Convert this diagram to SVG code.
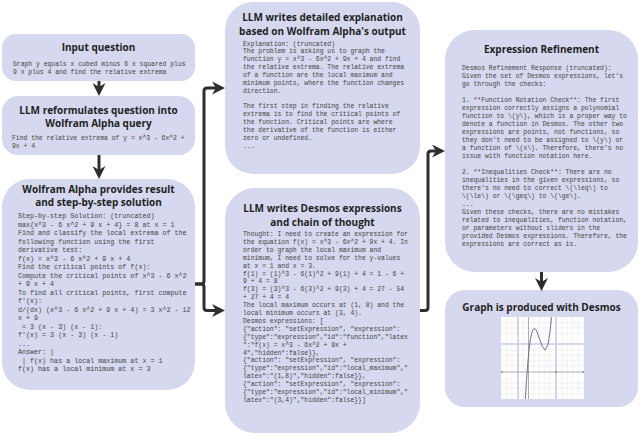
<svg xmlns="http://www.w3.org/2000/svg" width="640" height="436" viewBox="0 0 640 436">
<style>
.box{fill:#d5d8ee}
.title{font-family:"Open Sans","Liberation Sans",sans-serif;font-weight:700;font-size:10px;fill:#1f1f1f;text-anchor:middle}
.body{font-family:"Liberation Mono","DejaVu Sans Mono",monospace;font-size:6.4px;fill:#444}
.wa{font-size:6.7px}
.conn{fill:none;stroke:#2e2e2e;stroke-width:3}
.minor{stroke:#c8c8c8;stroke-width:0.5;stroke-dasharray:1 1}
.major{stroke:#c9cde6;stroke-width:1.6}
.axis{stroke:#8a8a8a;stroke-width:0.7}
</style>
<defs>
<marker id="arrow" viewBox="0 0 10 10" refX="7" refY="5" markerWidth="13" markerHeight="13" markerUnits="userSpaceOnUse" orient="auto">
<path d="M0,0 L10,5 L0,10 L3,5 z" fill="#2e2e2e"/>
</marker>
<clipPath id="plotclip"><rect x="501" y="317" width="83" height="82"/></clipPath>
</defs>

<g id="input-question">
<rect class="box" x="2" y="34" width="193" height="47" rx="14"/>
<text class="title" x="98.5" y="51">Input question</text>
<text class="body" x="13" y="65.5">Graph y equals x cubed minus 6 x squared plus</text>
<text class="body" x="13" y="74">9 x plus 4 and find the relative extrema</text>
</g>

<g id="reformulate">
<rect class="box" x="2" y="96" width="193" height="59" rx="16"/>
<text class="title" x="98.5" y="113.5">LLM reformulates question into</text>
<text class="title" x="98.5" y="127">Wolfram Alpha query</text>
<text class="body" x="12" y="139.5">Find the relative extrema of y = x^3 - 6x^2 +</text>
<text class="body" x="12" y="148">9x + 4</text>
</g>

<g id="wolfram">
<rect class="box" x="2" y="179" width="193" height="211" rx="28"/>
<text class="title" x="98.5" y="192.5">Wolfram Alpha provides result</text>
<text class="title" x="98.5" y="205.5">and step-by-step solution</text>
<text class="body wa">
<tspan x="18" y="218">Step-by-step Solution: (truncated)</tspan>
<tspan x="18" y="226.5">max{x^3 - 6 x^2 + 9 x + 4} = 8 at x = 1</tspan>
<tspan x="18" y="235">Find and classify the local extrema of the</tspan>
<tspan x="18" y="243.5">following function using the first</tspan>
<tspan x="18" y="252">derivative test:</tspan>
<tspan x="18" y="260.5">f(x) = x^3 - 6 x^2 + 9 x + 4</tspan>
<tspan x="18" y="269">Find the critical points of f(x):</tspan>
<tspan x="18" y="277.5">Compute the critical points of x^3 - 6 x^2</tspan>
<tspan x="18" y="286">+ 9 x + 4</tspan>
<tspan x="18" y="294.5">To find all critical points, first compute</tspan>
<tspan x="18" y="303">f'(x):</tspan>
<tspan x="18" y="311.5">d/(dx) (x^3 - 6 x^2 + 9 x + 4) = 3 x^2 - 12</tspan>
<tspan x="18" y="320">x + 9</tspan>
</text>
<text class="body wa" x="18" y="328.5" xml:space="preserve"> = 3 (x - 3) (x - 1):</text>
<text class="body wa">
<tspan x="18" y="337">f'(x) = 3 (x - 3) (x - 1)</tspan>
<tspan x="18" y="345.5">...</tspan>
<tspan x="18" y="354">Answer: |</tspan>
</text>
<text class="body wa" x="18" y="362.5" xml:space="preserve"> | f(x) has a local maximum at x = 1</text>
<text class="body wa" x="18" y="371">f(x) has a local minimum at x = 3</text>
</g>

<g id="explanation">
<rect class="box" x="225" y="2" width="195" height="172" rx="28"/>
<text class="title" x="322.5" y="20.5">LLM writes detailed explanation</text>
<text class="title" x="322.5" y="34.5">based on Wolfram Alpha's output</text>
<text class="body">
<tspan x="243" y="45.5">Explanation: (truncated)</tspan>
<tspan x="243" y="53.35">The problem is asking us to graph the</tspan>
<tspan x="243" y="61.2">function y = x^3 - 6x^2 + 9x + 4 and find</tspan>
<tspan x="243" y="69.05">the relative extrema. The relative extrema</tspan>
<tspan x="243" y="76.9">of a function are the local maximum and</tspan>
<tspan x="243" y="84.75">minimum points, where the function changes</tspan>
<tspan x="243" y="92.6">direction.</tspan>
<tspan x="243" y="108.3">The first step in finding the relative</tspan>
<tspan x="243" y="116.15">extrema is to find the critical points of</tspan>
<tspan x="243" y="124">the function. Critical points are where</tspan>
<tspan x="243" y="131.85">the derivative of the function is either</tspan>
<tspan x="243" y="139.7">zero or undefined.</tspan>
<tspan x="243" y="147.55">...</tspan>
</text>
</g>

<g id="desmos-expressions">
<rect class="box" x="225" y="188" width="195" height="245" rx="30"/>
<text class="title" x="322.5" y="211.5">LLM writes Desmos expressions</text>
<text class="title" x="322.5" y="225.5">and chain of thought</text>
<text class="body">
<tspan x="243" y="236">Thought: I need to create an expression for</tspan>
<tspan x="243" y="243.9">the equation f(x) = x^3 - 6x^2 + 9x + 4. In</tspan>
<tspan x="243" y="251.8">order to graph the local maximum and</tspan>
<tspan x="243" y="259.7">minimum, I need to solve for the y-values</tspan>
<tspan x="243" y="267.6">at x = 1 and x = 3.</tspan>
<tspan x="243" y="275.5">f(1) = (1)^3 - 6(1)^2 + 9(1) + 4 = 1 - 6 +</tspan>
<tspan x="243" y="283.4">9 + 4 = 8</tspan>
<tspan x="243" y="291.3">f(3) = (3)^3 - 6(3)^2 + 9(3) + 4 = 27 - 54</tspan>
<tspan x="243" y="299.2">+ 27 + 4 = 4</tspan>
<tspan x="243" y="307.1">The local maximum occurs at (1, 8) and the</tspan>
<tspan x="243" y="315">local minimum occurs at (3, 4).</tspan>
<tspan x="243" y="322.9">Desmos expressions: [</tspan>
<tspan x="243" y="330.8">{"action": "setExpression", "expression":</tspan>
<tspan x="243" y="338.7">{"type":"expression","id":"function","latex</tspan>
<tspan x="243" y="346.6">":"f(x) = x^3 - 6x^2 + 9x +</tspan>
<tspan x="243" y="354.5">4","hidden":false}},</tspan>
<tspan x="243" y="362.4">{"action": "setExpression", "expression":</tspan>
<tspan x="243" y="370.3">{"type":"expression","id":"local_maximum","</tspan>
<tspan x="243" y="378.2">latex":"(1,8)","hidden":false}},</tspan>
<tspan x="243" y="386.1">{"action": "setExpression", "expression":</tspan>
<tspan x="243" y="394">{"type":"expression","id":"local_minimum","</tspan>
<tspan x="243" y="401.9">latex":"(3,4)","hidden":false}}]</tspan>
</text>
</g>

<g id="refinement">
<rect class="box" x="445" y="30" width="193" height="242" rx="30"/>
<text class="title" x="541.5" y="52.5">Expression Refinement</text>
<text class="body">
<tspan x="462" y="69.8">Desmos Refinement Response (truncated):</tspan>
<tspan x="462" y="77.8">Given the set of Desmos expressions, let's</tspan>
<tspan x="462" y="85.8">go through the checks:</tspan>
<tspan x="462" y="101.8">1. **Function Notation Check**: The first</tspan>
<tspan x="462" y="109.8">expression correctly assigns a polynomial</tspan>
<tspan x="462" y="117.8">function to \(y\), which is a proper way to</tspan>
<tspan x="462" y="125.8">denote a function in Desmos. The other two</tspan>
<tspan x="462" y="133.8">expressions are points, not functions, so</tspan>
<tspan x="462" y="141.8">they don't need to be assigned to \(y\) or</tspan>
<tspan x="462" y="149.8">a function of \(x\). Therefore, there's no</tspan>
<tspan x="462" y="157.8">issue with function notation here.</tspan>
<tspan x="462" y="173.8">2. **Inequalities Check**: There are no</tspan>
<tspan x="462" y="181.8">inequalities in the given expressions, so</tspan>
<tspan x="462" y="189.8">there's no need to correct \(\leq\) to</tspan>
<tspan x="462" y="197.8">\(\le\) or \(\geq\) to \(\ge\).</tspan>
<tspan x="462" y="205.8">...</tspan>
<tspan x="462" y="213.8">Given these checks, there are no mistakes</tspan>
<tspan x="462" y="221.8">related to inequalities, function notation,</tspan>
<tspan x="462" y="229.8">or parameters without sliders in the</tspan>
<tspan x="462" y="237.8">provided Desmos expressions. Therefore, the</tspan>
<tspan x="462" y="245.8">expressions are correct as is.</tspan>
</text>
</g>

<g id="graph">
<rect class="box" x="445" y="290" width="193" height="117" rx="20"/>
<text class="title" x="541.5" y="310.5">Graph is produced with Desmos</text>
<rect x="501" y="317" width="83" height="82" fill="#ffffff"/>
<g clip-path="url(#plotclip)">
<path class="minor" d="M507,317V399M512,317V399M523,317V399M534,317V399M539,317V399M545,317V399M550,317V399M562,317V399M567,317V399M573,317V399M578,317V399"/>
<path class="minor" d="M501,323H584M501,328H584M501,333H584M501,350H584M501,355H584M501,361H584M501,366H584M501,383H584M501,388H584M501,394H584"/>
<path class="major" d="M518,317V399M556,317V399M501,344H584"/>
<path class="axis" d="M501,372H584M528.5,317V399"/>
<polyline fill="none" stroke="#6d7094" stroke-width="1" points="525.3,400 525.8,392.1 526.3,383.2 527.7,364.4 529,350.1 530.3,339.9 531.7,333.2 533,329.6 534.35,328.5 535.7,329.3 537,331.9 539.7,339.3 542.4,346.7 545,350.1 547.7,345.4 549,338.5 550.4,328.5 551.5,317.4 551.8,314"/>
</g>
<circle cx="502" cy="372" r="0.8" fill="#666"/>
<circle cx="583" cy="372" r="0.8" fill="#666"/>
<circle cx="556" cy="372" r="0.8" fill="#666"/>
</g>

<g id="connectors">
<path class="conn" d="M99,81 V92.1" marker-end="url(#arrow)"/>
<path class="conn" d="M99,155 V175.1" marker-end="url(#arrow)"/>
<path class="conn" d="M195,284 H201 Q204,284 204,281 V91 Q204,88 207,88 H221.1" marker-end="url(#arrow)"/>
<path class="conn" d="M195,284 H201 Q204,284 204,287 V307.5 Q204,310.5 207,310.5 H221.1" marker-end="url(#arrow)"/>
<path class="conn" d="M420,310.5 H425 Q428,310.5 428,307.5 V154 Q428,151 431,151 H441.1" marker-end="url(#arrow)"/>
<path class="conn" d="M541.5,272 V287.1" marker-end="url(#arrow)"/>
</g>
</svg>
